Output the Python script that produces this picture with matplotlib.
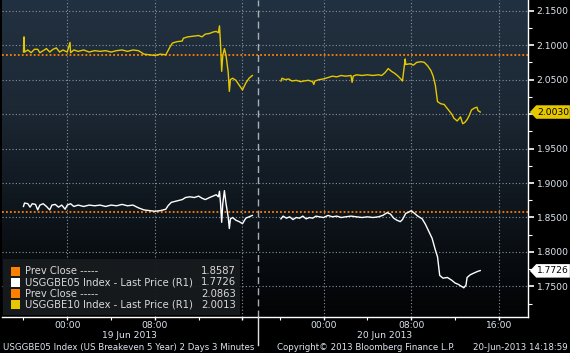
import numpy as np
import matplotlib
matplotlib.use("Agg")
import matplotlib.pyplot as plt
from matplotlib.patches import Rectangle, Polygon
from matplotlib.transforms import blended_transform_factory
from matplotlib.colors import LinearSegmentedColormap

# ---------------- data ----------------
# hours relative to 00:00 of each day
y10_day1_t = [-4.00, -3.95, -3.90, -3.6, -3.3, -3.0, -2.7, -2.5, -2.2, -1.9, -1.6, -1.3, -1.0, -0.7, -0.4, 0.0,
              0.25, 0.3, 0.6, 1.0, 1.5, 2.0, 2.5, 3.0, 3.5, 4.0, 4.5, 5.0, 5.5, 6.0, 6.5, 7.0, 7.5, 8.0, 8.5,
              9.0, 9.2, 9.4, 9.6, 10.0, 10.5, 10.6, 11.0, 11.5, 12.0, 12.3, 12.6, 13.0, 13.3, 13.6, 13.8, 13.9,
              14.0, 14.1, 14.2, 14.35, 14.5, 14.7, 14.8, 14.9, 15.1, 15.4, 15.7, 16.0, 16.3, 16.6, 16.9]
y10_day1_v = [2.090, 2.112, 2.090, 2.093, 2.089, 2.094, 2.094, 2.089, 2.092, 2.095, 2.090, 2.094, 2.096, 2.090,
              2.093, 2.090, 2.104, 2.089, 2.093, 2.091, 2.093, 2.090, 2.092, 2.091, 2.092, 2.090, 2.092, 2.093,
              2.091, 2.093, 2.092, 2.087, 2.086, 2.085, 2.087, 2.086, 2.092, 2.098, 2.103, 2.105, 2.106, 2.110,
              2.112, 2.113, 2.114, 2.112, 2.116, 2.117, 2.119, 2.120, 2.118, 2.128, 2.100, 2.062, 2.085, 2.095,
              2.085, 2.060, 2.033, 2.050, 2.052, 2.049, 2.042, 2.035, 2.045, 2.052, 2.056]

y10_day2_t = [-3.9, -3.8, -3.5, -3.2, -2.9, -2.5, -2.1, -1.8, -1.4, -1.0, -0.9, -0.8, -0.4, 0.0, 0.4, 0.8, 1.2,
              1.6, 2.0, 2.5, 2.6, 2.7, 3.0, 3.5, 4.0, 4.5, 5.0, 5.3, 5.6, 5.9, 6.2, 6.5, 6.8, 7.1, 7.2, 7.4,
              7.45, 7.5, 7.9, 8.2, 8.5, 8.9, 9.2, 9.5, 9.8, 10.0, 10.2, 10.4, 10.7, 11.0, 11.4, 11.7, 11.9,
              12.2, 12.5, 12.7, 12.9, 13.1, 13.3, 13.5, 13.8, 14.0, 14.1, 14.3]
y10_day2_v = [2.048, 2.052, 2.050, 2.051, 2.048, 2.049, 2.047, 2.048, 2.049, 2.047, 2.043, 2.048, 2.050, 2.051,
              2.053, 2.055, 2.054, 2.056, 2.055, 2.056, 2.046, 2.055, 2.057, 2.056, 2.057, 2.056, 2.057, 2.056,
              2.060, 2.066, 2.062, 2.059, 2.055, 2.050, 2.048, 2.074, 2.080, 2.072, 2.073, 2.071, 2.075, 2.076,
              2.075, 2.070, 2.063, 2.055, 2.042, 2.018, 2.015, 2.014, 2.006, 2.000, 1.994, 1.990, 1.996, 1.986,
              1.988, 1.992, 1.998, 2.006, 2.009, 2.010, 2.005, 2.003]

y05_day1_t = [-4.0, -3.9, -3.6, -3.4, -3.2, -2.9, -2.7, -2.5, -2.2, -1.9, -1.6, -1.4, -1.1, -0.8, -0.5, -0.2,
              0.0, 0.3, 0.6, 1.0, 1.5, 2.0, 2.5, 3.0, 3.5, 4.0, 4.5, 5.0, 5.5, 6.0, 6.5, 7.0, 7.5, 8.0, 8.5,
              9.0, 9.2, 9.5, 10.0, 10.5, 10.8, 11.2, 11.6, 12.0, 12.3, 12.6, 13.0, 13.3, 13.6, 13.8, 13.9,
              14.0, 14.1, 14.2, 14.35, 14.5, 14.7, 14.8, 14.9, 15.1, 15.4, 15.7, 16.0, 16.3, 16.6, 16.9]
y05_day1_v = [1.866, 1.871, 1.870, 1.865, 1.870, 1.869, 1.861, 1.868, 1.870, 1.866, 1.861, 1.868, 1.869, 1.865,
              1.868, 1.862, 1.868, 1.870, 1.866, 1.868, 1.866, 1.868, 1.867, 1.868, 1.866, 1.868, 1.867, 1.869,
              1.867, 1.868, 1.864, 1.861, 1.860, 1.859, 1.860, 1.862, 1.867, 1.872, 1.874, 1.876, 1.879, 1.880,
              1.879, 1.881, 1.878, 1.876, 1.879, 1.881, 1.883, 1.880, 1.888, 1.870, 1.843, 1.870, 1.889, 1.870,
              1.850, 1.834, 1.848, 1.850, 1.846, 1.844, 1.841, 1.849, 1.851, 1.853]

y05_day2_t = [-3.9, -3.7, -3.4, -3.1, -2.8, -2.5, -2.2, -1.9, -1.6, -1.3, -1.0, -0.7, -0.4, 0.0, 0.4, 0.8, 1.2,
              1.6, 2.0, 2.5, 3.0, 3.5, 4.0, 4.5, 5.0, 5.4, 5.8, 6.1, 6.4, 6.7, 7.0, 7.2, 7.5, 7.8, 8.0, 8.3,
              8.6, 9.0, 9.3, 9.6, 9.9, 10.2, 10.4, 10.6, 10.9, 11.3, 11.7, 12.0, 12.3, 12.6, 12.8, 13.0, 13.1,
              13.4, 13.8, 14.1, 14.3]
y05_day2_v = [1.848, 1.852, 1.849, 1.851, 1.847, 1.850, 1.849, 1.852, 1.848, 1.850, 1.849, 1.852, 1.851, 1.850,
              1.853, 1.851, 1.852, 1.850, 1.851, 1.852, 1.851, 1.850, 1.851, 1.850, 1.851, 1.853, 1.857, 1.855,
              1.849, 1.846, 1.844, 1.847, 1.856, 1.858, 1.860, 1.856, 1.852, 1.848, 1.840, 1.830, 1.820, 1.803,
              1.793, 1.766, 1.762, 1.763, 1.759, 1.755, 1.753, 1.750, 1.748, 1.752, 1.763, 1.767, 1.770, 1.772,
              1.773]

prev_close_05 = 1.8587
prev_close_10 = 2.0863
last_05 = 1.7726
last_10 = 2.0013
tag_10 = 2.0030

legend_labels = ["Prev Close -----", "USGGBE05 Index - Last Price (R1)",
                 "Prev Close -----", "USGGBE10 Index - Last Price (R1)"]
legend_values = ["1.8587", "1.7726", "2.0863", "2.0013"]

y_ticks = [1.75, 1.80, 1.85, 1.90, 1.95, 2.00, 2.05, 2.10, 2.15]
y_tick_labels = ["1.7500", "1.8000", "1.8500", "1.9000", "1.9500", "", "2.0500", "2.1000", "2.1500"]
day_labels = ["19 Jun 2013", "20 Jun 2013"]

# ---------------- layout ----------------
DAY2 = 23.41        # compressed axis position of 20 Jun 00:00
SEP = 17.39         # day separator
YEL = "#e6c800"
ORA = "#ff8000"
TXT = "#dfe6f0"
FS = 6.6

fig = plt.figure(figsize=(5.7, 3.53), dpi=100, facecolor="black")
ax = fig.add_axes([2/570, 36.3/353, 526.3/570, 316.7/353])
ax.set_xlim(-5.96, 42.1)
ax.set_ylim(1.7061, 2.1655)

# gradient background
grad = np.linspace(0, 1, 256).reshape(-1, 1)
cmap = LinearSegmentedColormap.from_list("bg", ["#020304", "#0e151c", "#1c2834", "#223141"])
ax.imshow(grad, cmap=cmap, aspect="auto", extent=[0, 1, 0, 1], transform=ax.transAxes,
          origin="lower", zorder=0)
ax.set_facecolor("black")

# grid
major_x = [0, 8, 16, DAY2, DAY2 + 8, DAY2 + 16]
for x in major_x:
    ax.axvline(x, color="#8a949e", lw=0.8, ls=(0, (1, 2)), zorder=1)
for y in y_ticks:
    ax.axhline(y, color="#8a949e", lw=0.8, ls=(0, (1, 2)), zorder=1)

# separator
ax.axvline(SEP, color="#a8b0b8", lw=1.0, ls=(0, (5, 3)), zorder=1)
ax.plot([SEP, SEP], [-0.09, 0], transform=blended_transform_factory(ax.transData, ax.transAxes),
        color="#e0e0e0", lw=1.0, clip_on=False, zorder=5)

# prev close lines
ax.axhline(prev_close_10, color=ORA, lw=1.3, ls=(0, (1, 1.2)), zorder=2)
ax.axhline(prev_close_05, color=ORA, lw=1.3, ls=(0, (1, 1.2)), zorder=2)

# series
ax.plot(y10_day1_t, y10_day1_v, color=YEL, lw=1.0, zorder=3)
ax.plot(np.array(y10_day2_t) + DAY2, y10_day2_v, color=YEL, lw=1.0, zorder=3)
ax.plot(y05_day1_t, y05_day1_v, color="white", lw=1.0, zorder=3)
ax.plot(np.array(y05_day2_t) + DAY2, y05_day2_v, color="white", lw=1.0, zorder=3)

# spines
for s in ["top", "left"]:
    ax.spines[s].set_visible(False)
for s in ["right", "bottom"]:
    ax.spines[s].set_color("white")
    ax.spines[s].set_linewidth(1.0)

# y axis on right
ax.yaxis.tick_right()
ax.set_yticks(y_ticks)
ax.set_yticklabels(y_tick_labels)
ax.set_yticks(np.arange(1.725, 2.17, 0.05), minor=True)
ax.tick_params(axis="y", which="major", colors="white", labelcolor=TXT, labelsize=FS,
               length=4, width=1.2, pad=2, direction="out")
ax.tick_params(axis="y", which="minor", colors="white", length=3, width=0.8, direction="out")

# x axis
ax.set_xticks(major_x)
ax.set_xticklabels(["00:00", "08:00", "", "00:00", "08:00", "16:00"])
ax.set_xticks([-4, 4, 12, DAY2 - 4, DAY2 + 4, DAY2 + 12], minor=True)
ax.tick_params(axis="x", which="major", colors="white", labelcolor=TXT, labelsize=FS,
               length=2, width=1, pad=0.8, direction="out")
ax.tick_params(axis="x", which="minor", colors="white", length=2, width=0.8, direction="out")

# date labels
tr = blended_transform_factory(ax.transData, fig.transFigure)
ax.text(5.7, 1 - 335.5/353, day_labels[0], transform=tr, color=TXT, fontsize=FS,
        ha="center", va="center")
ax.text(DAY2 + 5.6, 1 - 335.5/353, day_labels[1], transform=tr, color=TXT, fontsize=FS,
        ha="center", va="center")

# footer
fig.text(3/570, 1 - 347/353, "USGGBE05 Index (US Breakeven 5 Year) 2 Days 3 Minutes",
         color=TXT, fontsize=6.2, ha="left", va="center")
fig.text(277/570, 1 - 347/353, "Copyright\u00a9 2013 Bloomberg Finance L.P.",
         color=TXT, fontsize=6.2, ha="left", va="center")
fig.text(568/570, 1 - 347/353, "20-Jun-2013 14:18:59",
         color=TXT, fontsize=6.2, ha="right", va="center")

# value tags on right axis
tagtr = blended_transform_factory(ax.transAxes, ax.transData)
h = 0.0098
for val, fc, tc in [(tag_10, YEL, "black"), (last_05, "white", "black")]:
    poly = Polygon([[1.003, val], [1.015, val + h], [1.079, val + h], [1.079, val - h],
                    [1.015, val - h]], closed=True, transform=tagtr, facecolor=fc,
                   edgecolor="none", clip_on=False, zorder=6)
    ax.add_patch(poly)
    ax.text(1.047, val, f"{val:.4f}", transform=tagtr, color=tc, fontsize=FS,
            ha="center", va="center", clip_on=False, zorder=7)

# legend box
ax.add_patch(Rectangle((0.002, 0.006), 0.451, 0.176, transform=ax.transAxes,
                       facecolor="#181b1e", edgecolor="none", alpha=0.95, zorder=8))
sq_colors = [ORA, "white", ORA, YEL]
ys = [0.143, 0.108, 0.073, 0.038]
for yy, c, lab, val in zip(ys, sq_colors, legend_labels, legend_values):
    ax.add_patch(Rectangle((0.017, yy - 0.014), 0.018, 0.028, transform=ax.transAxes,
                           facecolor=c, edgecolor="none", zorder=9))
    ax.text(0.044, yy, lab, transform=ax.transAxes, color="#d8d8d8", fontsize=7.2,
            ha="left", va="center", zorder=9)
    ax.text(0.445, yy, val, transform=ax.transAxes, color="#d8d8d8", fontsize=7.2,
            ha="right", va="center", zorder=9)

fig.savefig("out.png", dpi=100, facecolor="black")
